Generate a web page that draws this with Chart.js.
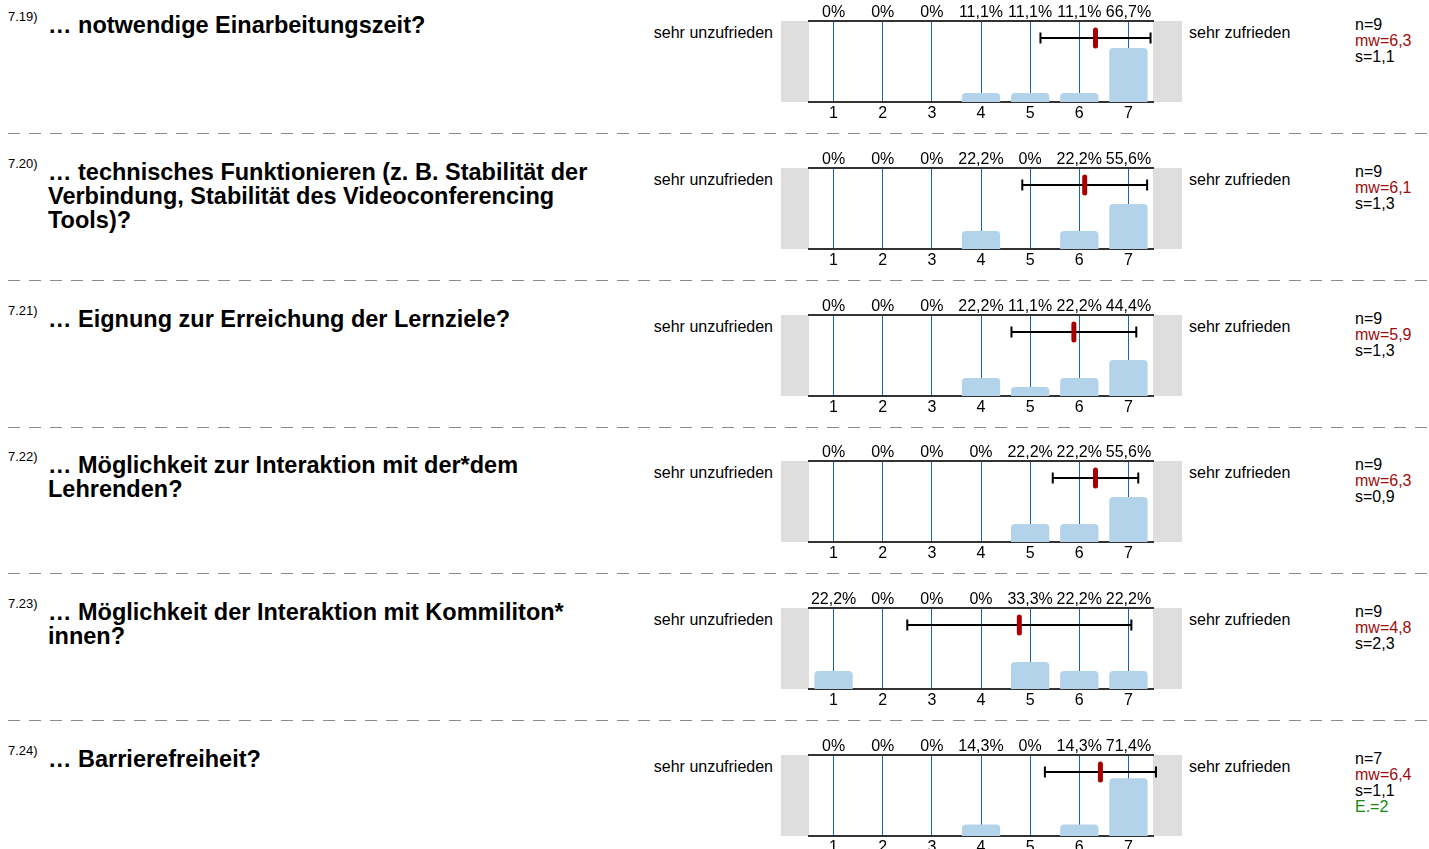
<!DOCTYPE html>
<html>
<head>
<meta charset="utf-8">
<script src="https://cdn.jsdelivr.net/npm/chart.js@4.4.0/dist/chart.umd.min.js"></script>
<style>
body { margin: 0; width: 1429px; height: 849px; overflow: hidden; background: #fff;
       font-family: "Liberation Sans", Arial, sans-serif; color: #000; position: relative; }
.abs { position: absolute; white-space: nowrap; }
.qid { font-size: 13px; line-height: 14px; }
.qtext { font-size: 23.5px; font-weight: bold; line-height: 24px; white-space: pre; }
.pole { font-size: 16px; line-height: 16px; }
.stats { font-size: 16px; line-height: 16px; }
.sep { height: 1px; background: repeating-linear-gradient(to right, #8c8c8c 0 12px, transparent 12px 21px); }
</style>
</head>
<body>
<script>
// survey items
const questionIds = ['7.19)', '7.20)', '7.21)', '7.22)', '7.23)', '7.24)']
const questions = [
    '… notwendige Einarbeitungszeit?',
    '… technisches Funktionieren (z. B. Stabilität der\nVerbindung, Stabilität des Videoconferencing\nTools)?',
    '… Eignung zur Erreichung der Lernziele?',
    '… Möglichkeit zur Interaktion mit der*dem\nLehrenden?',
    '… Möglichkeit der Interaktion mit Kommiliton*\ninnen?',
    '… Barrierefreiheit?'
]
const scaleLabels = ['1', '2', '3', '4', '5', '6', '7']
const leftPole = 'sehr unzufrieden'
const rightPole = 'sehr zufrieden'

// answer distribution in percent, one array per item
const pct719 = [0, 0, 0, 11.1, 11.1, 11.1, 66.7]
const pct720 = [0, 0, 0, 22.2, 0, 22.2, 55.6]
const pct721 = [0, 0, 0, 22.2, 11.1, 22.2, 44.4]
const pct722 = [0, 0, 0, 0, 22.2, 22.2, 55.6]
const pct723 = [22.2, 0, 0, 0, 33.3, 22.2, 22.2]
const pct724 = [0, 0, 0, 14.3, 0, 14.3, 71.4]
const allPct = [pct719, pct720, pct721, pct722, pct723, pct724]

const nValues = [9, 9, 9, 9, 9, 7]
const meanValues = [6.33, 6.11, 5.89, 6.33, 4.78, 6.43]
const sdValues = [1.12, 1.27, 1.27, 0.87, 2.28, 1.13]
const abstentions = [null, null, null, null, null, 2]

const FONT = '"Liberation Sans", Arial, sans-serif'
const ROW_H = 146.8

function fmt(v) {
    return v.toFixed(1).replace('.', ',')
}
function pctLabel(v) {
    return v == 0 ? '0%' : fmt(v) + '%'
}

function addDiv(cls, text, left, top, extra) {
    let d = document.createElement('div')
    d.className = 'abs ' + cls
    d.textContent = text
    d.style.left = left + 'px'
    d.style.top = top + 'px'
    if (extra) Object.assign(d.style, extra)
    document.body.appendChild(d)
    return d
}

// gray boxes left and right of the plot
const sideBoxes = {
    id: 'sideBoxes',
    beforeDraw(chart) {
        const {ctx, chartArea} = chart
        ctx.save()
        ctx.fillStyle = '#dedede'
        ctx.fillRect(0, chartArea.top, chartArea.left, chartArea.bottom - chartArea.top)
        ctx.fillRect(chartArea.right, chartArea.top, chart.width - chartArea.right, chartArea.bottom - chartArea.top)
        ctx.restore()
    }
}

function meanPlugin(mean, sd) {
    return {
        id: 'meanMarker',
        afterDraw(chart) {
            const {ctx, chartArea} = chart
            const x = chart.scales.x
            const y = chartArea.top + 17
            const x1 = x.getPixelForValue(mean - sd - 1)
            const x2 = x.getPixelForValue(mean + sd - 1)
            const xm = x.getPixelForValue(mean - 1)
            ctx.save()
            ctx.strokeStyle = '#000'
            ctx.lineWidth = 2
            ctx.beginPath()
            ctx.moveTo(x1, y); ctx.lineTo(x2, y)
            ctx.moveTo(x1, y - 5.5); ctx.lineTo(x1, y + 5.5)
            ctx.moveTo(x2, y - 5.5); ctx.lineTo(x2, y + 5.5)
            ctx.stroke()
            ctx.strokeStyle = '#a80000'
            ctx.lineWidth = 5
            ctx.lineCap = 'round'
            ctx.beginPath()
            ctx.moveTo(xm, y - 8); ctx.lineTo(xm, y + 8)
            ctx.stroke()
            ctx.restore()
        }
    }
}

for (let i = 0; i < questions.length; i++) {
    const off = Math.round(i * ROW_H)

    addDiv('qid', questionIds[i], 8, off + 10)
    addDiv('qtext', questions[i], 48, off + 13)
    addDiv('pole', leftPole, 0, off + 25, {width: '773px', textAlign: 'right'})
    addDiv('pole', rightPole, 1189, off + 25)

    let st = addDiv('stats', '', 1355, off + 17)
    st.innerHTML = 'n=' + nValues[i] +
        '<br><span style="color:#9b0d0d">mw=' + fmt(meanValues[i]) + '</span>' +
        '<br>s=' + fmt(sdValues[i]) +
        (abstentions[i] != null ? '<br><span style="color:#138a13">E.=' + abstentions[i] + '</span>' : '')

    if (i < questions.length - 1) {
        let s = addDiv('sep', '', 8, off + 133)
        s.style.width = '1421px'
    }

    let canvas = document.createElement('canvas')
    canvas.width = 401
    canvas.height = 130
    canvas.className = 'abs'
    canvas.style.left = '781px'
    canvas.style.top = off + 'px'
    document.body.appendChild(canvas)

    new Chart(canvas, {
        type: 'bar',
        data: {
            labels: scaleLabels,
            datasets: [{
                data: allPct[i],
                backgroundColor: '#b3d3eb',
                borderRadius: 4,
                barPercentage: 0.78,
                categoryPercentage: 1
            }]
        },
        options: {
            responsive: false,
            animation: false,
            layout: {padding: {left: 28, right: 29, top: 0, bottom: 0}},
            plugins: {legend: {display: false}, tooltip: {enabled: false}},
            scales: {
                x: {
                    position: 'bottom',
                    offset: true,
                    z: 1,
                    grid: {offset: false, color: '#1a62ae', lineWidth: 1, drawTicks: false},
                    border: {color: '#333', width: 2},
                    ticks: {color: '#000', font: {family: FONT, size: 16}, padding: 2, maxRotation: 0},
                    afterFit: (s) => { s.height = 28 }
                },
                xTop: {
                    type: 'category',
                    labels: allPct[i].map(pctLabel),
                    position: 'top',
                    offset: true,
                    grid: {color: 'rgba(0,0,0,0)', drawTicks: false},
                    border: {color: '#333', width: 2},
                    ticks: {color: '#000', font: {family: FONT, size: 16}, padding: -1, maxRotation: 0, autoSkip: false},
                    afterFit: (s) => { s.height = 21 }
                },
                y: {display: false, min: 0, max: 100}
            }
        },
        plugins: [sideBoxes, meanPlugin(meanValues[i], sdValues[i])]
    })
}
</script>
</body>
</html>
